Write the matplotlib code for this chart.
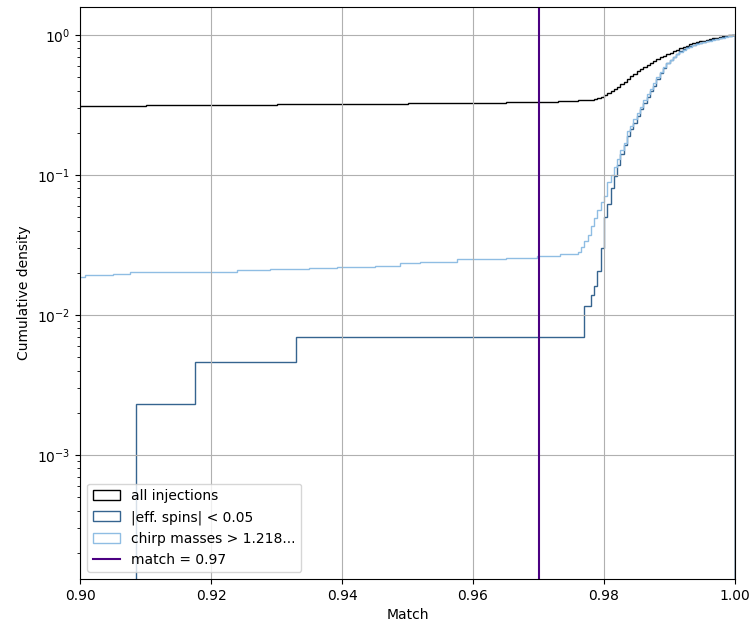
import numpy as np
import matplotlib
matplotlib.use("Agg")
import matplotlib.pyplot as plt
from matplotlib.patches import Patch

# common fine bin grid over the steep part (0.976 .. 1.0)
rise_edges = np.round(np.arange(0.976, 1.00001, 0.0005), 4)

# all injections
all_low_edges = [0.85, 0.90, 0.91, 0.92, 0.93, 0.94, 0.95, 0.96, 0.965, 0.97, 0.973]
all_low_vals = [0.305, 0.311, 0.313, 0.316, 0.318, 0.321, 0.324, 0.328, 0.331, 0.334, 0.338]
all_rise_vals = [0.341, 0.342, 0.343, 0.344,
                 0.345, 0.349, 0.355, 0.362, 0.371, 0.382, 0.395, 0.410, 0.427, 0.445,
                 0.464, 0.484, 0.505, 0.527, 0.548, 0.569, 0.590, 0.611, 0.633, 0.653,
                 0.672, 0.690, 0.708, 0.726, 0.745, 0.764, 0.783, 0.803, 0.821, 0.838,
                 0.854, 0.869, 0.883, 0.897, 0.910, 0.922, 0.933, 0.944, 0.954, 0.964,
                 0.973, 0.982, 0.991, 1.000]

# |eff. spins| < 0.05
spin_low_edges = [0.9086, 0.9175, 0.933]
spin_low_vals = [0.0023, 0.0046, 0.0069]
spin_rise_vals = [0.0069, 0.0069, 0.0115, 0.0115, 0.0138, 0.0161, 0.0207, 0.030,
                  0.050, 0.062, 0.080, 0.098, 0.118, 0.140, 0.163, 0.188,
                  0.212, 0.235, 0.262, 0.293, 0.325, 0.360, 0.395, 0.43,
                  0.48, 0.53, 0.58, 0.625, 0.665, 0.70, 0.735, 0.765,
                  0.792, 0.815, 0.835, 0.852, 0.867, 0.881, 0.894, 0.906,
                  0.918, 0.93, 0.941, 0.952, 0.963, 0.974, 0.985, 1.0]

# chirp masses > 1.218...
chirp_low_edges = [0.895, 0.9008, 0.905, 0.9076, 0.915, 0.9239, 0.929, 0.935,
                   0.9392, 0.945, 0.9489, 0.9519, 0.9575, 0.9651, 0.9697, 0.9733]
chirp_low_vals = [0.0185, 0.0192, 0.0197, 0.0202, 0.0203, 0.0208, 0.0212, 0.0216,
                  0.0221, 0.0225, 0.0233, 0.0240, 0.0251, 0.0256, 0.0262, 0.0272]
chirp_rise_vals = [0.0283, 0.0307, 0.0335, 0.0370, 0.0428, 0.049, 0.0564, 0.064,
                   0.0701, 0.0895, 0.100, 0.1145, 0.130, 0.151, 0.168, 0.204,
                   0.225, 0.250, 0.276, 0.305, 0.343, 0.375, 0.41, 0.45,
                   0.50, 0.545, 0.59, 0.63, 0.665, 0.70, 0.73, 0.76,
                   0.785, 0.805, 0.825, 0.842, 0.857, 0.871, 0.884, 0.896,
                   0.908, 0.92, 0.932, 0.944, 0.956, 0.968, 0.98, 1.0]

match_cut = 0.97

series = [
    ("all injections", all_low_edges, all_low_vals, all_rise_vals, "black"),
    ("|eff. spins| < 0.05", spin_low_edges, spin_low_vals, spin_rise_vals, "#35648f"),
    ("chirp masses > 1.218...", chirp_low_edges, chirp_low_vals, chirp_rise_vals, "#8fbde3"),
]

fig = plt.figure(figsize=(7.51, 6.24), dpi=100)
ax = fig.add_axes([80 / 751, 45 / 624, 655 / 751, 572 / 624])

handles = []
for label, low_e, low_v, rise_v, color in series:
    edges = np.concatenate([low_e, rise_edges])
    vals = np.concatenate([low_v, rise_v])
    ax.stairs(vals, edges, baseline=1e-7, color=color, linewidth=1.0)
    handles.append(Patch(facecolor="none", edgecolor=color, label=label))

line = ax.axvline(match_cut, color="indigo", linewidth=1.5, label=f"match = {match_cut}")
handles.append(line)

ax.set_yscale("log")
ax.set_xlim(0.90, 1.00)
ax.set_ylim(1.3e-4, 1.58)
ax.set_xticks([0.90, 0.92, 0.94, 0.96, 0.98, 1.00])
ax.grid(True)
ax.set_xlabel("Match")
ax.set_ylabel("Cumulative density")
ax.legend(handles=handles, loc="lower left")

fig.savefig("out.png", dpi=100)
